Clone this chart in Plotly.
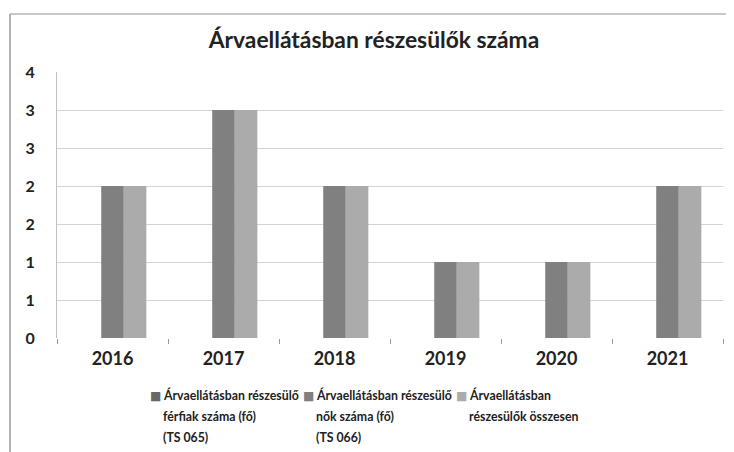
import plotly.graph_objects as go

years = ["2016", "2017", "2018", "2019", "2020", "2021"]
men = [0, 0, 0, 0, 0, 0]
women = [2, 3, 2, 1, 1, 2]
total = [2, 3, 2, 1, 1, 2]
series_names = [
    ["Árvaellátásban részesülő", "férfiak száma (fő)", "(TS 065)"],
    ["Árvaellátásban részesülő", "nők száma (fő)", "(TS 066)"],
    ["Árvaellátásban", "részesülők összesen"],
]
y_tickvals = [0, 0.5, 1, 1.5, 2, 2.5, 3, 3.5]
y_ticktext = ["0", "1", "1", "2", "2", "3", "3", "4"]
colors = ["#686868", "#808080", "#ababab"]

# the page body has an 8px margin, so the figure is drawn 8px smaller and offset
OFF = 8
W, H = 734 - OFF, 452 - OFF
# target page pixels of the plot area: left 57, right 723, top 72, bottom 338
L, R, T, B = 57 - OFF, W - (723 - OFF), 72 - OFF, H - (338 - OFF)
pw, ph = W - L - R, H - T - B

def px(x):  # page pixel -> paper x
    return (x - OFF - L) / pw

def py(y):  # page pixel -> paper y
    return (H - B - (y - OFF)) / ph

fig = go.Figure()
for lines, vals, c in zip(series_names, [men, women, total], colors):
    fig.add_trace(go.Bar(x=years, y=vals, name=" ".join(lines), showlegend=False,
                         marker=dict(color=c, line=dict(width=0))))

ff = "Lato, Open Sans, sans-serif"

# legend drawn as text: colored square + wrapped label lines (Excel-like spacing)
leg_x0, leg_step = 151, 153
line_y0, line_step = 395, 21
for i, (lines, c) in enumerate(zip(series_names, colors)):
    x_marker = leg_x0 + i * leg_step
    fig.add_annotation(xref="paper", yref="paper", x=px(x_marker + 4), y=py(line_y0 + 1),
                       xanchor="center", yanchor="middle", showarrow=False, text="■",
                       font=dict(family="DejaVu Sans", size=12, color=c))
    for j, ln in enumerate(lines):
        fig.add_annotation(xref="paper", yref="paper", x=px(x_marker + 10), y=py(line_y0 + j * line_step),
                           xanchor="left", yanchor="middle", showarrow=False, text=ln,
                           font=dict(family=ff, size=12.3, color="#222222", weight="bold"))

fig.update_layout(
    width=W, height=H,
    margin=dict(l=L, r=R, t=T, b=B),
    paper_bgcolor="white", plot_bgcolor="white",
    barmode="group", bargap=0.39, bargroupgap=0,
    showlegend=False,
    title=dict(text="<b>Árvaellátásban részesülők száma</b>", x=px(374), xref="paper", xanchor="center",
               y=1 - (40 - OFF) / H, yref="container", yanchor="middle",
               font=dict(family=ff, size=22.8, color="#222222")),
    xaxis=dict(showgrid=False, ticks="outside", tickson="boundaries", ticklen=5, tickcolor="#999999",
               showline=False, automargin=False,
               tickfont=dict(family=ff, size=18, color="#222222", weight="bold"),
               ticklabelstandoff=8),
    yaxis=dict(range=[0, 3.5], tickvals=y_tickvals, ticktext=y_ticktext, showgrid=True,
               gridcolor="#d4d4d4", gridwidth=1, showline=True, linecolor="#c0c0c0", zeroline=False,
               automargin=False,
               tickfont=dict(family=ff, size=16, color="#222222", weight="bold"),
               ticklabelstandoff=18),
)

# outer chart border (scanned frame)
fig.add_shape(type="line", xref="paper", yref="paper", x0=px(10), x1=px(734), y0=py(14), y1=py(14),
              line=dict(color="#b5b5b5", width=1.5))
fig.add_shape(type="line", xref="paper", yref="paper", x0=px(10), x1=px(10), y0=py(14), y1=py(452),
              line=dict(color="#9a9a9a", width=1.5))

fig.write_html("out.html")
